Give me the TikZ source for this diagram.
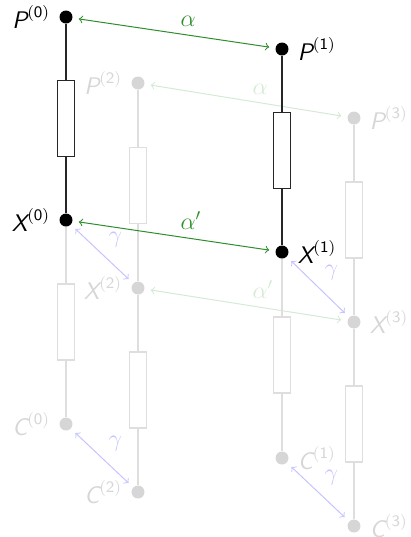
\documentclass[tikz,border=0pt]{standalone}
\usepackage{amsmath}
\usepackage{xcolor}
\usepackage{tikz}
\usetikzlibrary{calc}

\definecolor{fadegray}{RGB}{214,214,214}
\definecolor{linegray}{RGB}{222,222,222}
\definecolor{alphagreen}{RGB}{46,142,46}
\definecolor{fadegreen}{RGB}{212,234,212}
\definecolor{gammablue}{RGB}{196,196,255}

\newcommand{\vlab}[2]{$\textsf{\itshape #1}^{\mathsf{(#2)}}$}

\begin{document}
\begin{tikzpicture}[
  x=0.5pt,y=-0.5pt,
  font=\fontsize{12}{14}\selectfont,
  dot/.style={circle,fill=black,inner sep=0pt,minimum size=6.5pt},
  ghostdot/.style={dot,fill=fadegray},
  res/.style={rectangle,draw=black!85,line width=0.6pt,fill=white,inner sep=0pt,
              minimum width=8.5pt,minimum height=38pt},
  ghostres/.style={res,draw=linegray},
  wire/.style={line width=0.6pt,draw=black!85},
  ghostwire/.style={line width=0.6pt,draw=linegray},
  lbl/.style={label distance=1pt},
  link/.style={<->,line width=0.5pt,shorten <=3pt,shorten >=3pt},
  tag/.style={midway,above right,inner sep=3pt}
]
\useasboundingbox (0,0) rectangle (411,537);

% ===================== back layer (columns 2 and 3) =====================
\node[ghostdot,label={[lbl,text=fadegray]left:\vlab{P}{2}}] (p2) at (138,83) {};
\node[ghostdot,label={[lbl,text=fadegray]left:\vlab{X}{2}}] (x2) at (138,288) {};
\node[ghostdot,label={[lbl,text=fadegray]left:\vlab{C}{2}}] (c2) at (138,492) {};
\node[ghostres] (rp2) at ($(p2)!0.5!(x2)$) {};
\node[ghostres] (rx2) at ($(x2)!0.5!(c2)$) {};
\draw[ghostwire] (p2) -- (rp2.north) (rp2.south) -- (x2) -- (rx2.north) (rx2.south) -- (c2);

\node[ghostdot,label={[lbl,text=fadegray]right:\vlab{P}{3}}] (p3) at (354,118) {};
\node[ghostdot,label={[lbl,text=fadegray]right:\vlab{X}{3}}] (x3) at (354,322) {};
\node[ghostdot,label={[lbl,text=fadegray]right:\vlab{C}{3}}] (c3) at (354,526) {};
\node[ghostres] (rp3) at ($(p3)!0.5!(x3)$) {};
\node[ghostres] (rx3) at ($(x3)!0.5!(c3)$) {};
\draw[ghostwire] (p3) -- (rp3.north) (rp3.south) -- (x3) -- (rx3.north) (rx3.south) -- (c3);

% faded couplings between the back columns
\draw[link,fadegreen] (p2) -- node[tag,text=fadegreen]{$\alpha$} (p3);
\draw[link,fadegreen] (x2) -- node[tag,text=fadegreen]{$\alpha'$} (x3);

% ===================== front layer (columns 0 and 1) =====================
\node[dot,label={[lbl]left:\vlab{P}{0}}] (p0) at (66,17) {};
\node[dot,label={[lbl]left:\vlab{X}{0}}] (x0) at (66,220) {};
\node[ghostdot,label={[lbl,text=fadegray]left:\vlab{C}{0}}] (c0) at (66,424) {};
\node[res] (rp0) at ($(p0)!0.5!(x0)$) {};
\node[ghostres] (rx0) at ($(x0)!0.5!(c0)$) {};
\draw[wire] (p0) -- (rp0.north) (rp0.south) -- (x0);
\draw[ghostwire] (x0) -- (rx0.north) (rx0.south) -- (c0);

\node[dot,label={[lbl]right:\vlab{P}{1}}] (p1) at (282,49) {};
\node[dot,label={[lbl]right:\vlab{X}{1}}] (x1) at (282,252) {};
\node[ghostdot,label={[lbl,text=fadegray]right:\vlab{C}{1}}] (c1) at (282,458) {};
\node[res] (rp1) at ($(p1)!0.5!(x1)$) {};
\node[ghostres] (rx1) at ($(x1)!0.5!(c1)$) {};
\draw[wire] (p1) -- (rp1.north) (rp1.south) -- (x1);
\draw[ghostwire] (x1) -- (rx1.north) (rx1.south) -- (c1);

% gamma couplings (front to back)
\draw[link,gammablue] (x0) -- node[tag,text=gammablue]{$\gamma$} (x2);
\draw[link,gammablue] (c0) -- node[tag,text=gammablue]{$\gamma$} (c2);
\draw[link,gammablue] (x1) -- node[tag,text=gammablue]{$\gamma$} (x3);
\draw[link,gammablue] (c1) -- node[tag,text=gammablue]{$\gamma$} (c3);

% alpha couplings between the front columns
\draw[link,alphagreen] (p0) -- node[tag,text=alphagreen]{$\alpha$} (p1);
\draw[link,alphagreen] (x0) -- node[tag,text=alphagreen]{$\alpha'$} (x1);

\end{tikzpicture}
\end{document}
